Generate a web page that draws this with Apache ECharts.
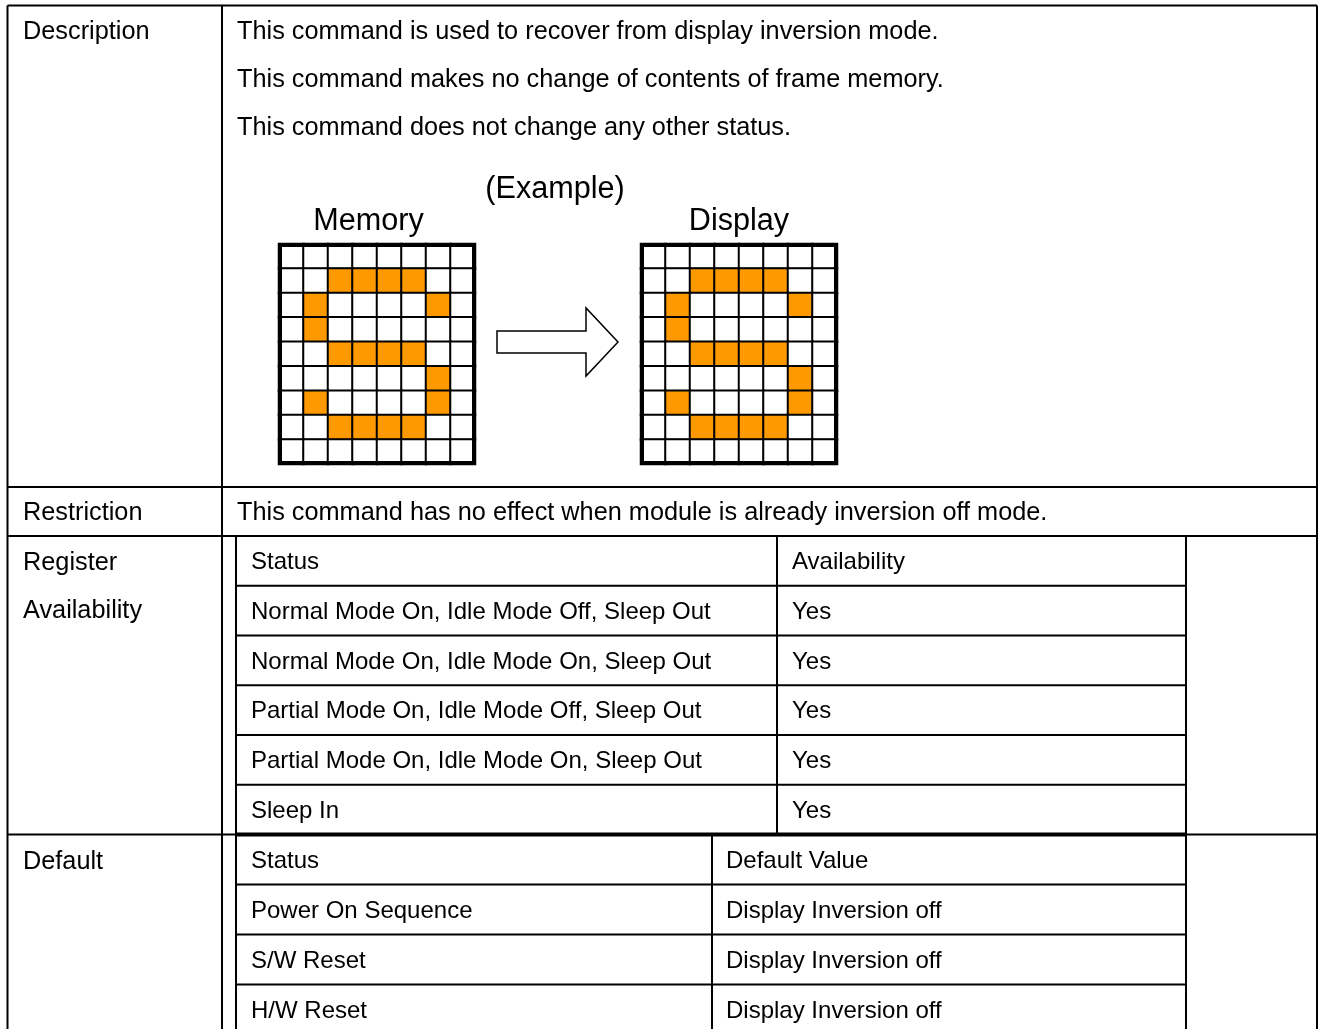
<!DOCTYPE html>
<html>
<head>
<meta charset="utf-8">
<script src="https://cdn.jsdelivr.net/npm/echarts@6/dist/echarts.min.js"></script>
<style>
html,body{margin:0;padding:0;background:#fff;}
#chart{width:1321px;height:1029px;}
</style>
</head>
<body>
<div id="chart"></div>
<script>
// ---------------- DATA ----------------
const rowLabels = ["Description", "Restriction", "Register", "Availability", "Default"];
const descriptionLines = [
  "This command is used to recover from display inversion mode.",
  "This command makes no change of contents of frame memory.",
  "This command does not change any other status."
];
const exampleTitle = "(Example)";
const panelTitles = ["Memory", "Display"];
const restrictionText = "This command has no effect when module is already inversion off mode.";
const availabilityHeader = ["Status", "Availability"];
const availabilityStatus = [
  "Normal Mode On, Idle Mode Off, Sleep Out",
  "Normal Mode On, Idle Mode On, Sleep Out",
  "Partial Mode On, Idle Mode Off, Sleep Out",
  "Partial Mode On, Idle Mode On, Sleep Out",
  "Sleep In"
];
const availabilityValues = ["Yes", "Yes", "Yes", "Yes", "Yes"];
const defaultHeader = ["Status", "Default Value"];
const defaultStatus = ["Power On Sequence", "S/W Reset", "H/W Reset"];
const defaultValues = ["Display Inversion off", "Display Inversion off", "Display Inversion off"];
const pixelCols = ["0", "1", "2", "3", "4", "5", "6", "7"];
const pixelRows = ["0", "1", "2", "3", "4", "5", "6", "7", "8"];
const memoryPixels = [
  [0,0,0,0,0,0,0,0],
  [0,0,1,1,1,1,0,0],
  [0,1,0,0,0,0,1,0],
  [0,1,0,0,0,0,0,0],
  [0,0,1,1,1,1,0,0],
  [0,0,0,0,0,0,1,0],
  [0,1,0,0,0,0,1,0],
  [0,0,1,1,1,1,0,0],
  [0,0,0,0,0,0,0,0]
];
const displayPixels = [
  [0,0,0,0,0,0,0,0],
  [0,0,1,1,1,1,0,0],
  [0,1,0,0,0,0,1,0],
  [0,1,0,0,0,0,0,0],
  [0,0,1,1,1,1,0,0],
  [0,0,0,0,0,0,1,0],
  [0,1,0,0,0,0,1,0],
  [0,0,1,1,1,1,0,0],
  [0,0,0,0,0,0,0,0]
];

// ---------------- LAYOUT ----------------
const FONT = '"Liberation Sans", Arial, sans-serif';
const FS = 24;      // inner tables
const FS_L = 25.3;  // labels and description
const FS_T = 30.6;  // example titles
const L = { left: 7.5, label: 222, inner: 236, innerR: 1186, right: 1317, top: 5.5, bottom: 1029,
            descEnd: 487, restrEnd: 536, regEnd: 834.5, defTop: 834.5 };
const regRowH = (L.regEnd - L.restrEnd) / 6;
const defRowH = 50;
const col1X = 251, t1DivX = 777, t2DivX = 712;
const panels = [{ left: 279, top: 244, width: 196, height: 220 }, { left: 641, top: 244, width: 196, height: 220 }];
const titleCenters = [368.5, 739];

const g = [];
function line(x1, y1, x2, y2, w) {
  g.push({ type: 'line', z: 10, shape: { x1, y1, x2, y2 }, style: { stroke: '#000', lineWidth: w || 2 } });
}
function text(str, x, y, size, align) {
  g.push({ type: 'text', z: 20, x, y, style: { text: str, font: (size || FS) + 'px ' + FONT, fill: '#000', textAlign: align || 'left', textVerticalAlign: 'middle' } });
}

// outer frame and section lines
line(L.left, L.top, L.right, L.top);
line(L.left, L.top, L.left, L.bottom);
line(L.right, L.top, L.right, L.bottom);
line(L.label, L.top, L.label, L.bottom);
line(L.left, L.descEnd, L.right, L.descEnd);
line(L.left, L.restrEnd, L.right, L.restrEnd);
line(L.left, L.regEnd, L.right, L.regEnd);
line(L.inner, L.restrEnd, L.inner, L.bottom);
line(L.innerR, L.restrEnd, L.innerR, L.bottom);
line(L.inner, L.regEnd, L.innerR, L.regEnd, 4);

// row labels
text(rowLabels[0], 23, 32, FS_L);
text(rowLabels[1], 23, 513, FS_L);
text(rowLabels[2], 23, 563, FS_L);
text(rowLabels[3], 23, 611, FS_L);
text(rowLabels[4], 23, 862, FS_L);

// description
descriptionLines.forEach((s, i) => text(s, 237, 32 + i * 48, FS_L));
text(exampleTitle, 555, 190, FS_T, 'center');
panelTitles.forEach((t, i) => text(t, titleCenters[i], 222, FS_T, 'center'));
text(restrictionText, 237, 513, FS_L);

// availability table
const t1Rows = [availabilityHeader].concat(availabilityStatus.map((s, i) => [s, availabilityValues[i]]));
t1Rows.forEach((r, i) => {
  const yc = L.restrEnd + regRowH * (i + 0.5) + 1.5;
  text(r[0], col1X, yc);
  text(r[1], 792, yc);
  if (i > 0) line(L.inner, L.restrEnd + regRowH * i, L.innerR, L.restrEnd + regRowH * i);
});
line(t1DivX, L.restrEnd, t1DivX, L.regEnd);

// default table
const t2Rows = [defaultHeader].concat(defaultStatus.map((s, i) => [s, defaultValues[i]]));
t2Rows.forEach((r, i) => {
  const yc = L.defTop + defRowH * (i + 0.5) + 1.5;
  text(r[0], col1X, yc);
  text(r[1], 726, yc);
  if (i > 0) line(L.inner, L.defTop + defRowH * i, L.innerR, L.defTop + defRowH * i);
});
line(t2DivX, L.defTop, t2DivX, L.bottom);

// arrow
g.push({ type: 'polygon', z: 10, shape: { points: [[497, 331], [586, 331], [586, 308], [618, 342], [586, 376], [586, 353], [497, 353]] },
  style: { fill: '#fff', stroke: '#000', lineWidth: 1.5 } });

// thick panel borders
panels.forEach(p => g.push({ type: 'rect', z: 100, shape: { x: p.left + 1, y: p.top + 1, width: p.width - 2, height: p.height - 2 },
  style: { fill: 'none', stroke: '#000', lineWidth: 4 } }));

function toCells(m) {
  const out = [];
  m.forEach((row, r) => row.forEach((v, c) => out.push([c, r, v])));
  return out;
}

const chart = echarts.init(document.getElementById('chart'), null, { renderer: 'canvas' });
chart.setOption({
  backgroundColor: '#fff',
  animation: false,
  grid: panels.map(p => ({ left: p.left, top: p.top, width: p.width, height: p.height, containLabel: false })),
  xAxis: panels.map((p, i) => ({ type: 'category', gridIndex: i, data: pixelCols, show: false })),
  yAxis: panels.map((p, i) => ({ type: 'category', gridIndex: i, data: pixelRows, inverse: true, show: false })),
  visualMap: { type: 'piecewise', show: false, seriesIndex: [0, 1], dimension: 2,
    pieces: [{ value: 0, color: '#ffffff' }, { value: 1, color: '#ff9900' }] },
  series: [memoryPixels, displayPixels].map((m, i) => ({
    type: 'heatmap', xAxisIndex: i, yAxisIndex: i, data: toCells(m),
    itemStyle: { borderColor: '#000', borderWidth: 2 },
    emphasis: { disabled: true }, silent: true
  })),
  graphic: g
});
</script>
</body>
</html>
